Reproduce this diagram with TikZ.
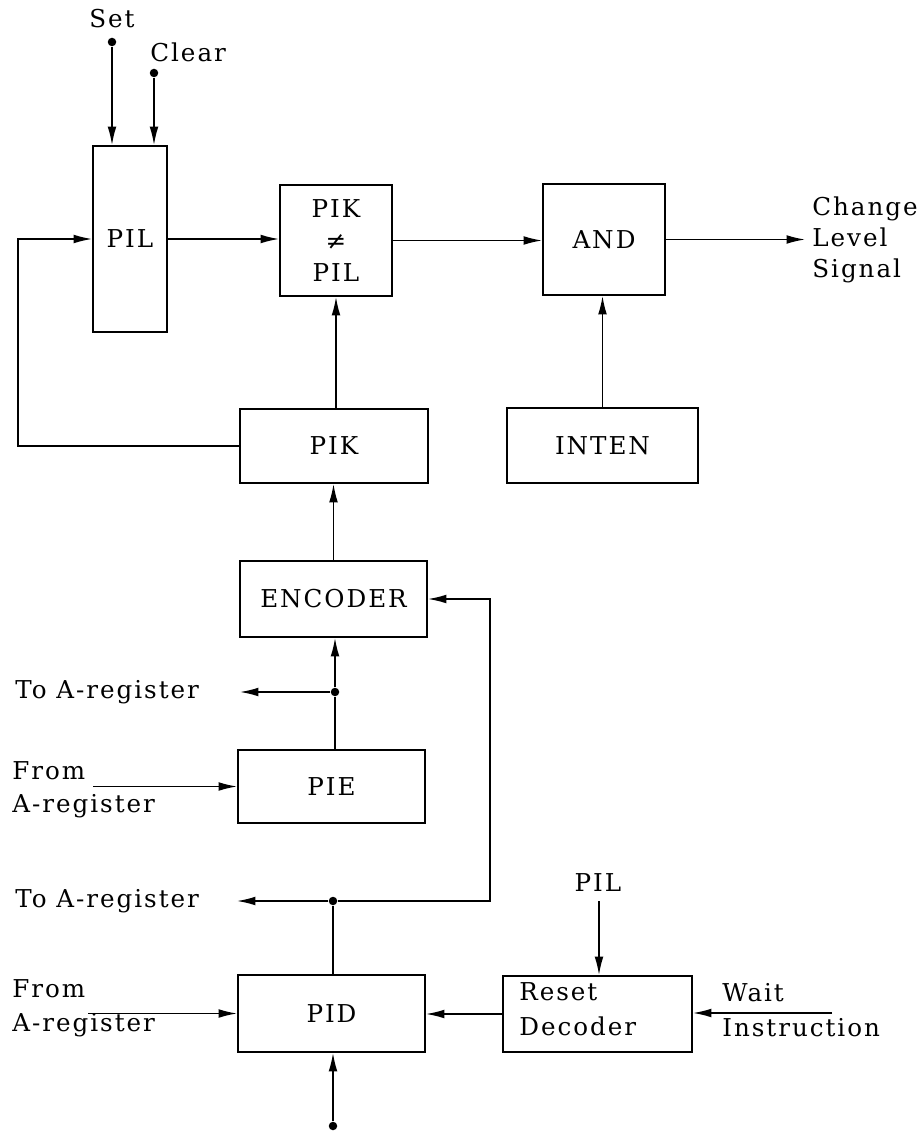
\documentclass[tikz,border=0pt]{standalone}
\usepackage{fontspec}
\setmainfont{DejaVu Serif}[LetterSpace=8]
\usetikzlibrary{arrows.meta}
\newcommand\lblfont{\fontsize{14}{18.5}\selectfont}
\begin{document}
\begin{tikzpicture}[x=0.02cm,y=-0.02cm,
  box/.style={draw, line width=1.1pt, inner sep=0pt, align=center, font=\lblfont},
  conn/.style={line width=0.85pt},
  arr/.style={conn, -{Latex[length=10.5pt,width=5pt]}},
  dot/.style={circle, fill, inner sep=0pt, minimum size=0.17cm},
  lbl/.style={inner sep=0pt, align=left, font=\lblfont}]
\useasboundingbox (0,0) rectangle (920,1131);
% boxes
\node[box, minimum width=1.48cm, minimum height=3.72cm] (PIL) at (130,239) {PIL};
\node[box, minimum width=2.24cm, minimum height=2.22cm, font=\fontsize{14}{18}\selectfont] (NE) at (336,240.5) {PIK\\≠\\PIL};
\node[box, minimum width=2.44cm, minimum height=2.22cm] (AND) at (604,239.5) {AND};
\node[box, minimum width=3.82cm, minimum height=1.5cm] (INTEN) at (602.5,445.5) {INTEN};
\node[box, minimum width=3.76cm, minimum height=1.48cm] (PIK) at (334,446) {PIK};
\node[box, minimum width=3.74cm, minimum height=1.52cm] (ENC) at (333.5,599) {ENCODER};
\node[box, minimum width=3.74cm, minimum height=1.46cm] (PIE) at (331.5,786.5) {PIE};
\node[box, minimum width=3.74cm, minimum height=1.54cm] (PID) at (331.5,1013.5) {PID};
\node[box, minimum width=3.78cm, minimum height=1.52cm] (RD) at (597.5,1014) {};
\node[lbl, anchor=west, font=\fontsize{14}{19.8}\selectfont] (RDl) at (519,1009) {Reset\\Decoder};
% Set / Clear
\node[dot] (setdot) at (112,42) {};
\node[dot] (clrdot) at (154,73) {};
\node[lbl] (setl) at (112,19) {Set};
\node[lbl, anchor=west] (clrl) at (150,52) {Clear};
\draw[arr] (setdot) -- (setdot |- PIL.north);
\draw[arr] (clrdot) -- (clrdot |- PIL.north);
% top row
\draw[arr] (PIL.east) -- (PIL.east -| NE.west);
\draw[arr] (NE.east) -- (NE.east -| AND.west);
\coordinate (cls) at (805,239.5);
\draw[arr] (AND.east) -- (cls);
\node[lbl, anchor=west, font=\fontsize{14}{17.6}\selectfont] (clsl) at (812,240) {Change\\Level\\Signal};
\draw[arr] (INTEN.north) -- (INTEN.north |- AND.south);
\draw[arr] (NE.south |- PIK.north) -- (NE.south);
% feedback
\coordinate (fb) at (18,446);
\draw[arr] (PIK.west) -- (fb) |- (PIL.west);
% stack
\draw[arr] (ENC.north) -- (ENC.north |- PIK.south);
\node[dot] (j1) at (335,692) {};
\draw[conn] (PIE.north -| j1) -- (j1);
\draw[arr] (j1) -- (j1 |- ENC.south);
\coordinate (toA1) at (240,692);
\draw[arr] (j1) -- (toA1);
\node[lbl, anchor=west] (toA1l) at (15,692) {To A-register};
\coordinate (fromA1) at (93,786.5);
\draw[arr] (fromA1) -- (PIE.west);
\node[lbl, anchor=west, font=\fontsize{14}{18.7}\selectfont] (fromA1l) at (12,790) {From\\A-register};
\node[dot] (j2) at (333,901) {};
\draw[conn] (PID.north -| j2) -- (j2);
\coordinate (toA2) at (237,901);
\draw[arr] (j2) -- (toA2);
\node[lbl, anchor=west] (toA2l) at (15,901) {To A-register};
\coordinate (encin) at (490,901);
\draw[arr] (j2) -- (encin) |- (ENC.east);
\coordinate (fromA2) at (88,1013.5);
\draw[arr] (fromA2) -- (PID.west);
\node[lbl, anchor=west, font=\fontsize{14}{19.3}\selectfont] (fromA2l) at (12,1008) {From\\A-register};
\draw[arr] (RD.west) -- (RD.west -| PID.east);
\node[dot] (bdot) at (333,1126) {};
\draw[arr] (bdot) -- (bdot |- PID.south);
\node[lbl] (pill) at (598,883) {PIL};
\coordinate (pilc) at (599,901);
\draw[arr] (pilc) -- (pilc |- RD.north);
\coordinate (wait) at (832,1013);
\draw[arr] (wait) -- (wait -| RD.east);
\node[lbl, anchor=west, font=\fontsize{14}{19.8}\selectfont] (waitl) at (722,1010.5) {Wait\\Instruction};
\end{tikzpicture}
\end{document}
